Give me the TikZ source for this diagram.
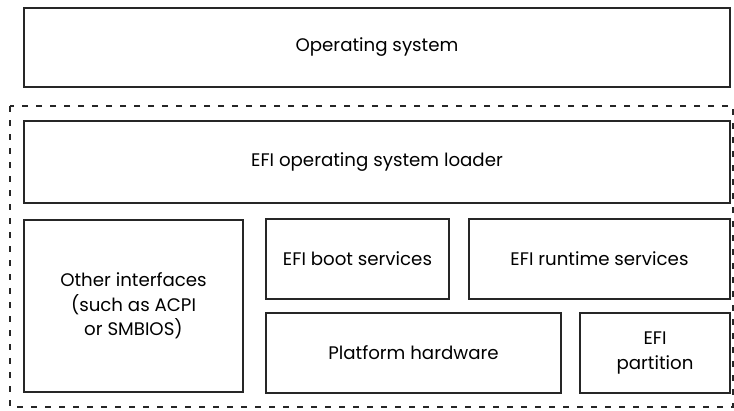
\documentclass[tikz,border=0pt]{standalone}
\usepackage{fontspec}
\setmainfont{Poppins}
\begin{document}
\begin{tikzpicture}[x=1pt,y=-1pt,
  box/.style={draw=black!85,line width=2.2pt,align=center,font=\fontsize{18.2}{24.5}\selectfont,inner sep=0pt},
  group/.style={draw=black!85,line width=2.2pt,dash pattern=on 6pt off 8pt}]
\useasboundingbox (0,0) rectangle (734,410);
\node[box,minimum width=706pt,minimum height=79pt] (os) at (377,47.5) {Operating system};
\draw[group] (10,106) rectangle (733,407);
\node[box,minimum width=706pt,minimum height=82pt] (loader) at (377,162) {EFI operating system loader};
\node[box,minimum width=219pt,minimum height=172pt] (other) at (133.5,306) {Other interfaces\\(such as ACPI\\or SMBIOS)};
\node[box,minimum width=183pt,minimum height=80pt] (boot) at (357.5,259) {EFI boot services};
\node[box,minimum width=261pt,minimum height=80pt] (runtime) at (599.5,259) {EFI runtime services};
\node[box,minimum width=295pt,minimum height=80pt] (platform) at (413.5,353) {Platform hardware};
\node[box,minimum width=150pt,minimum height=80pt] (partition) at (655,353) {EFI\\partition};
\end{tikzpicture}
\end{document}
